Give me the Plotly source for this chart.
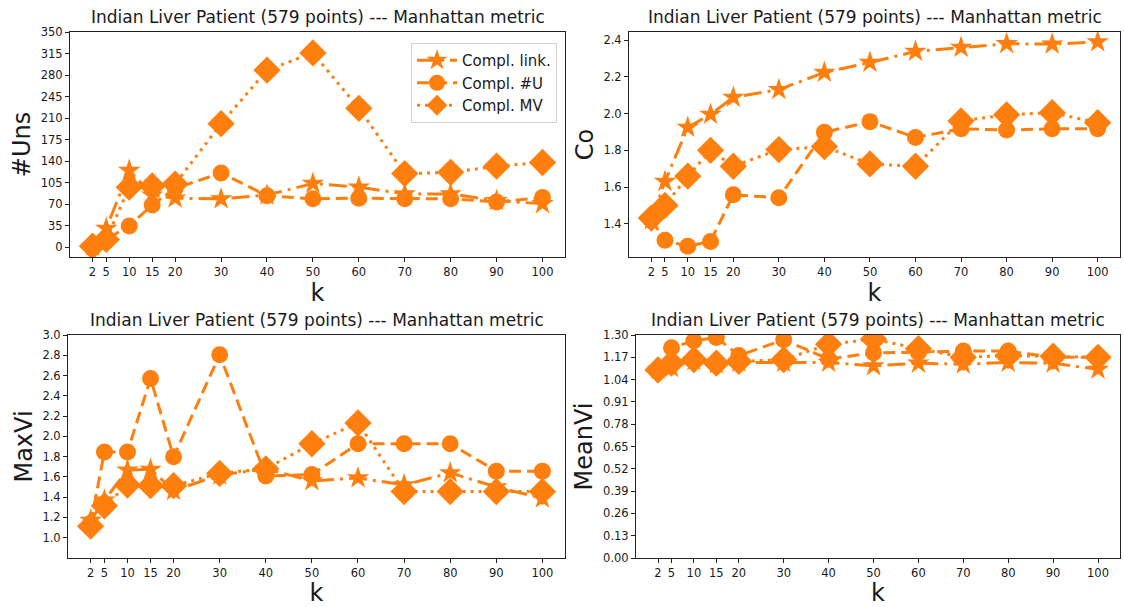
import plotly.graph_objects as go

k_values = [2, 5, 10, 15, 20, 30, 40, 50, 60, 70, 80, 90, 100]
series_names = ["Compl. link.", "Compl. #U", "Compl. MV"]
title_text = "Indian Liver Patient (579 points) --- Manhattan metric"

uns_link = [2, 31, 125, 85, 80, 79, 85, 104, 98, 87, 87, 76, 71]
uns_u = [2, 13, 35, 69, 96, 121, 84, 79, 80, 79, 79, 74, 81]
uns_mv = [2, 13, 98, 100, 103, 201, 288, 316, 226, 120, 122, 132, 138]

co_link = [1.42, 1.63, 1.925, 1.995, 2.088, 2.13, 2.224, 2.278, 2.338, 2.36, 2.38, 2.378, 2.39]
co_u = [1.42, 1.31, 1.277, 1.304, 1.558, 1.541, 1.898, 1.956, 1.87, 1.917, 1.91, 1.917, 1.917]
co_mv = [1.431, 1.50, 1.659, 1.80, 1.713, 1.804, 1.82, 1.726, 1.713, 1.96, 1.993, 2.005, 1.95]

maxvi_link = [1.17, 1.37, 1.667, 1.675, 1.465, 1.618, 1.68, 1.56, 1.59, 1.52, 1.64, 1.50, 1.39]
maxvi_u = [1.14, 1.846, 1.846, 2.57, 1.80, 2.805, 1.608, 1.624, 1.927, 1.927, 1.927, 1.657, 1.657]
maxvi_mv = [1.114, 1.315, 1.52, 1.514, 1.514, 1.634, 1.68, 1.927, 2.132, 1.455, 1.455, 1.455, 1.455]

meanvi_link = [1.10, 1.11, 1.15, 1.13, 1.14, 1.14, 1.14, 1.12, 1.135, 1.13, 1.14, 1.135, 1.10]
meanvi_u = [1.10, 1.226, 1.266, 1.286, 1.18, 1.272, 1.16, 1.196, 1.20, 1.206, 1.206, 1.17, 1.17]
meanvi_mv = [1.096, 1.136, 1.156, 1.136, 1.146, 1.156, 1.246, 1.276, 1.22, 1.17, 1.18, 1.176, 1.17]

y_labels = ["#Uns", "Co", "MaxVi", "MeanVi"]
panels = [
    (uns_link, uns_u, uns_mv),
    (co_link, co_u, co_mv),
    (maxvi_link, maxvi_u, maxvi_mv),
    (meanvi_link, meanvi_u, meanvi_mv),
]

W, H = 1124, 607
ORANGE = "#ff7f0e"
FONT = "DejaVu Sans"
TXT = "#1a1a1a"

# pixel boxes: (left, right, top, bottom)
boxes = [(70, 565, 32, 257), (629, 1120, 32, 257), (68, 565, 335, 558), (636, 1120, 335, 558)]
yranges = [[-15.5, 350], [1.219, 2.444], [0.8, 3.0], [0.0, 1.30]]
yticks = [
    [0, 35, 70, 105, 140, 175, 210, 245, 280, 315, 350],
    [1.4, 1.6, 1.8, 2.0, 2.2, 2.4],
    [1.0, 1.2, 1.4, 1.6, 1.8, 2.0, 2.2, 2.4, 2.6, 2.8, 3.0],
    [0.0, 0.13, 0.26, 0.39, 0.52, 0.65, 0.78, 0.91, 1.04, 1.17, 1.30],
]
yfmt = ["d", ".1f", ".1f", ".2f"]

styles = [
    dict(symbol="star", size=17, dash="18px,6px,3px,6px"),
    dict(symbol="circle", size=17, dash="12px,6px"),
    dict(symbol="diamond", size=21, dash="3px,5px"),
]

fig = go.Figure()
layout = dict(
    template="none",
    width=W, height=H, margin=dict(l=0, r=0, t=0, b=0, autoexpand=False),
    paper_bgcolor="white", plot_bgcolor="white",
    font=dict(family=FONT, color=TXT),
    showlegend=True,
    legend=dict(
        x=557 / W, y=1 - 43 / H, xanchor="right", yanchor="top",
        bgcolor="rgba(255,255,255,0.8)", bordercolor="#d0d0d0", borderwidth=1,
        font=dict(family=FONT, size=15, color=TXT), tracegroupgap=0,
        itemwidth=40,
    ),
)
annotations = []
for i, (box, ys) in enumerate(zip(boxes, panels)):
    l, r, t, b = box
    sfx = "" if i == 0 else str(i + 1)
    xa, ya = "x" + sfx, "y" + sfx
    for j, (name, vals, st) in enumerate(zip(series_names, ys, styles)):
        fig.add_trace(go.Scatter(
            x=k_values, y=vals, name=name, mode="lines+markers",
            xaxis=xa, yaxis=ya, showlegend=(i == 0),
            line=dict(color=ORANGE, width=3, dash=st["dash"]),
            marker=dict(color=ORANGE, symbol=st["symbol"], size=st["size"], line=dict(width=0)),
        ))
    axis_common = dict(
        showline=True, linecolor="#222", linewidth=1, mirror=True, automargin=False,
        ticks="outside", ticklen=4, tickcolor="#222", showgrid=False, zeroline=False,
        tickfont=dict(family=FONT, size=11.5, color=TXT),
    )
    layout["xaxis" + sfx] = dict(
        domain=[l / W, r / W], anchor=ya, range=[-2.9, 104.9],
        tickmode="array", tickvals=k_values, ticktext=[str(v) for v in k_values],
        title=dict(text="k", font=dict(family=FONT, size=24, color=TXT), standoff=0),
        **axis_common,
    )
    layout["yaxis" + sfx] = dict(
        domain=[1 - b / H, 1 - t / H], anchor=xa, range=yranges[i],
        tickmode="array", tickvals=yticks[i], tickformat=yfmt[i],
        title=dict(text=y_labels[i], font=dict(family=FONT, size=24, color=TXT), standoff=3),
        **axis_common,
    )
    annotations.append(dict(
        text=title_text, xref="paper", yref="paper",
        x=(l + r) / 2 / W, y=1 - (t - 3) / H, xanchor="center", yanchor="bottom",
        showarrow=False, font=dict(family=FONT, size=17, color=TXT),
    ))
layout["annotations"] = annotations
fig.update_layout(**layout)
fig.write_html(
    "out.html",
    config={"displayModeBar": False},
    post_script="document.body.style.margin='0';document.body.style.overflow='hidden';",
)
